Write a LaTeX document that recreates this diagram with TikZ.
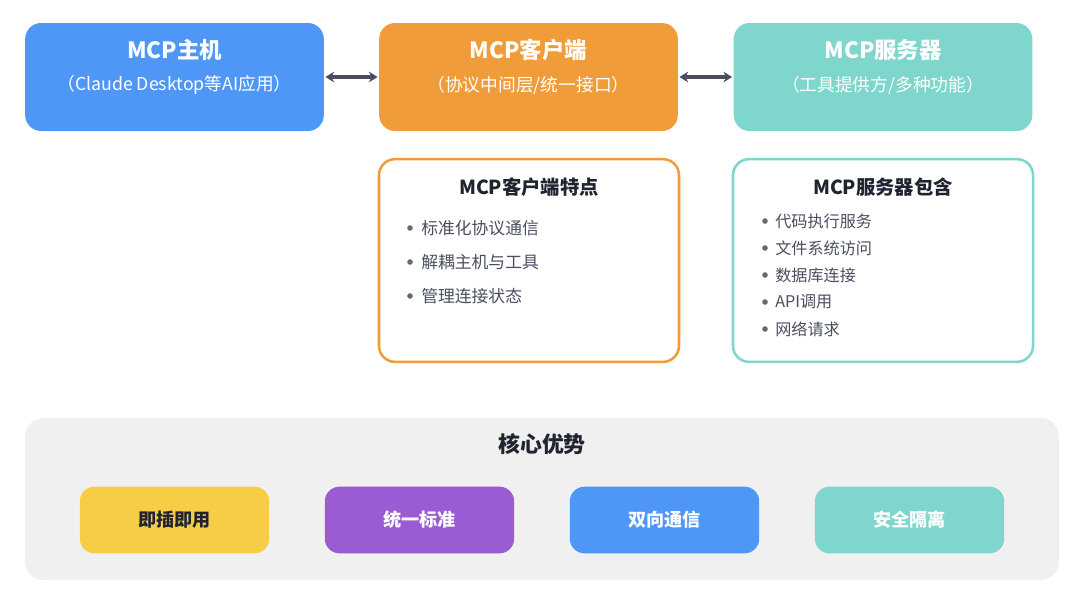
\documentclass[tikz,border=0pt]{standalone}
\usepackage{fontspec}
\setmainfont{Noto Sans CJK SC}
\usetikzlibrary{arrows.meta}
\definecolor{cblue}{HTML}{4F97F7}
\definecolor{corange}{HTML}{F09C3A}
\definecolor{cteal}{HTML}{7FD6CC}
\definecolor{cyellow}{HTML}{F7CD45}
\definecolor{cpurple}{HTML}{9A5BD3}
\definecolor{cpanel}{HTML}{F0F0F0}
\definecolor{cdark}{HTML}{1F2430}
\definecolor{ctext}{HTML}{4B5060}
\definecolor{carrow}{HTML}{4A4E5E}
\tikzset{
  topbox/.style={rounded corners=12pt, minimum width=224pt, minimum height=81pt, inner sep=0pt},
  card/.style={rounded corners=12pt, fill=white, line width=1.9pt, minimum width=225pt, minimum height=152pt, inner sep=0pt},
  ttl/.style={text=white, font=\bfseries\fontsize{16.8}{20}\selectfont, inner sep=0pt},
  sub/.style={text=white, font=\fontsize{13.3}{16}\selectfont, inner sep=0pt},
  cardttl/.style={text=cdark, font=\bfseries\fontsize{14.5}{17}\selectfont, inner sep=0pt},
  item/.style={text=ctext, font=\fontsize{12.6}{15}\selectfont, inner sep=0pt, anchor=west},
  itemsm/.style={text=ctext, font=\fontsize{12.1}{14}\selectfont, inner sep=0pt, anchor=west},
  dot/.style={circle, fill=ctext!85, inner sep=0pt, minimum size=4.2pt},
  adv/.style={rounded corners=11pt, minimum width=142pt, minimum height=50pt, inner sep=0pt, font=\bfseries\fontsize{13.6}{16}\selectfont},
  link/.style={{Stealth[length=6.5pt,width=8pt]}-{Stealth[length=6.5pt,width=8pt]}, line width=2.5pt, draw=carrow, fill=carrow}
}
\begin{document}
\begin{tikzpicture}[x=0.75pt,y=-0.75pt]
\useasboundingbox (0,0) rectangle (1080,608);
% top boxes
\node[topbox, fill=cblue] (host) at (174.5,77) {};
\node[topbox, fill=corange] (client) at (528.5,77) {};
\node[topbox, fill=cteal] (server) at (883,77) {};
\node[ttl] (hostT) at (174.5,50) {MCP主机};
\node[sub] (hostS) at (174.5,85) {（Claude Desktop等AI应用）};
\node[ttl] (clientT) at (528.5,50) {MCP客户端};
\node[sub] (clientS) at (528.5,85) {（协议中间层/统一接口）};
\node[ttl] (serverT) at (883,50) {MCP服务器};
\node[sub] (serverS) at (883,85) {（工具提供方/多种功能）};
\draw[link, shorten <=1pt, shorten >=1pt] (host.east) -- (client.west);
\draw[link, shorten <=1pt, shorten >=1pt] (client.east) -- (server.west);
% cards
\node[card, draw=corange] (ccard) at (529,260.5) {};
\node[card, draw=cteal] (scard) at (883,260.5) {};
\node[cardttl] (ccardT) at (529,187) {MCP客户端特点};
\node[cardttl] (scardT) at (883,187) {MCP服务器包含};
\foreach \y/\t [count=\i] in {228/标准化协议通信, 262/解耦主机与工具, 296/管理连接状态}{
  \node[dot] (cd\i) at (410,\y) {};
  \node[item] (ci\i) at (421,\y) {\t};
}
\foreach \y/\t [count=\i] in {221/代码执行服务, 248/文件系统访问, 275/数据库连接, 302/API调用, 329/网络请求}{
  \node[dot] (sd\i) at (765,\y) {};
  \node[itemsm] (si\i) at (775,\y) {\t};
}
% bottom panel
\node[rounded corners=14pt, fill=cpanel, minimum width=775.5pt, minimum height=121.5pt, inner sep=0pt] (panel) at (542,499) {};
\node[text=cdark, font=\bfseries\fontsize{16.4}{19}\selectfont, inner sep=0pt] (panelT) at (542,444) {核心优势};
\node[adv, fill=cyellow, text=cdark] (a1) at (174.5,520) {即插即用};
\node[adv, fill=cpurple, text=white] (a2) at (419.5,520) {统一标准};
\node[adv, fill=cblue, text=white] (a3) at (664.5,520) {双向通信};
\node[adv, fill=cteal, text=white] (a4) at (909.5,520) {安全隔离};
\end{tikzpicture}
\end{document}
